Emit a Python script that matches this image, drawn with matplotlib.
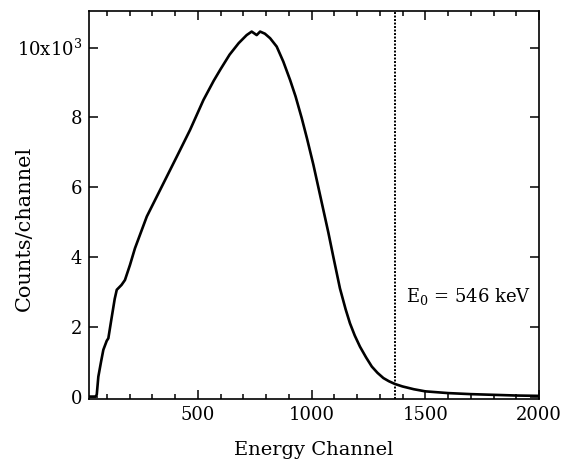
import matplotlib

matplotlib.use("Agg")
import matplotlib.pyplot as plt
from matplotlib.ticker import FuncFormatter, MultipleLocator

plt.rcParams["font.family"] = ["DejaVu Serif"]
plt.rcParams["mathtext.fontset"] = "dejavuserif"

# spectrum (channel, counts/channel)
channel = [22, 50, 56, 63, 75, 85, 100, 107, 120, 135, 144, 165, 180, 202, 224,
           276, 349, 415, 466, 525, 570, 600, 640, 680, 715, 737, 759, 774, 795,
           818, 847, 876, 906, 930, 957, 980, 1008, 1030, 1052, 1074, 1096, 1125,
           1150, 1169, 1190, 1213, 1240, 1265, 1290, 1316, 1340, 1367, 1400,
           1450, 1500, 1600, 1700, 1800, 1900, 2000]
counts = [0, 0, 50, 570, 1000, 1340, 1600, 1670, 2200, 2800, 3060, 3200, 3340,
          3770, 4250, 5160, 6110, 6970, 7640, 8500, 9050, 9380, 9800, 10130,
          10360, 10460, 10360, 10460, 10400, 10270, 10030, 9600, 9070, 8600,
          7980, 7400, 6650, 6000, 5350, 4700, 4000, 3100, 2500, 2100, 1750,
          1430, 1120, 860, 680, 530, 440, 360, 290, 210, 150, 100, 70, 50, 30, 20]

E0_CHANNEL = 1365
E0_LABEL = "E$_0$ = 546 keV"

fig = plt.figure(figsize=(5.68, 4.68), dpi=100)
ax = fig.add_axes([0.1567, 0.1474, 0.7923, 0.8291])

ax.plot(channel, counts, color="black", lw=1.9)
ax.axvline(E0_CHANNEL, color="black", lw=1.4, ls=(0, (1, 0.8)))
ax.text(1416, 2880, E0_LABEL, fontsize=13, va="center", ha="left")

ax.set_xlim(22, 2000)
ax.set_ylim(-70, 11050)

ax.xaxis.set_major_locator(MultipleLocator(500))
ax.xaxis.set_minor_locator(MultipleLocator(100))
ax.yaxis.set_major_locator(MultipleLocator(2000))


def fmt_y(v, pos):
    if abs(v - 10000) < 1:
        return "10x10$^3$"
    return f"{v / 1000:g}"


ax.yaxis.set_major_formatter(FuncFormatter(fmt_y))

ax.tick_params(which="both", direction="in", top=True, right=True,
               labelsize=13, width=1.1)
ax.tick_params(which="major", length=6.5, pad=5)
ax.tick_params(which="minor", length=3.5)
for s in ax.spines.values():
    s.set_linewidth(1.2)

ax.set_xlabel("Energy Channel", fontsize=14, labelpad=12)
ax.set_ylabel("Counts/channel", fontsize=15)
ax.yaxis.set_label_coords(-0.122, 0.44)

fig.savefig("out.png", dpi=100)
